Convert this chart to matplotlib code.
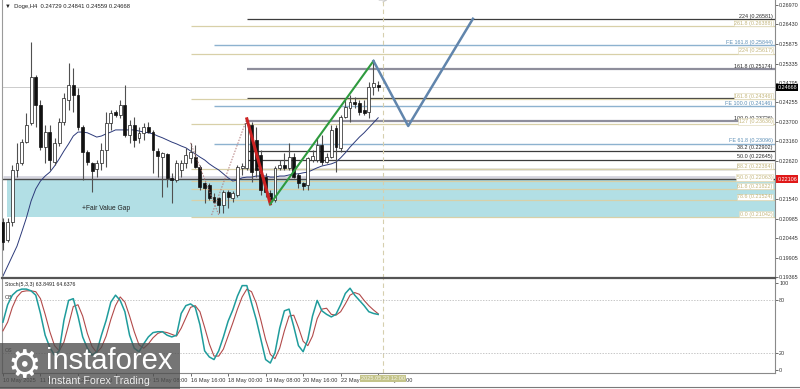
"""
Doge H4 chart with fib levels, fair value gap and Stoch(5,3,3) sub-panel.
Bar index 0 = 10 May 2025 00:00, one bar every 4 hours.
"""
import numpy as np
import matplotlib
matplotlib.use("Agg")
import matplotlib.pyplot as plt
from matplotlib.patches import Rectangle

plt.rcParams['font.family'] = ['Liberation Sans', 'DejaVu Sans']

# ---- candles ----
opens = [0.2090, 0.2040, 0.2090, 0.2236, 0.2256, 0.2314, 0.2368, 0.2496, 0.2418, 0.2300,
         0.2342, 0.2258, 0.2312, 0.2370, 0.2432, 0.2474, 0.2446, 0.2356, 0.2286, 0.2256,
         0.2239, 0.2256, 0.2292, 0.2368, 0.2398, 0.2390, 0.2418, 0.2334, 0.2362, 0.2326,
         0.2340, 0.2356, 0.2342, 0.2289, 0.2272, 0.2281, 0.2214, 0.2208, 0.2236, 0.2256,
         0.2270, 0.2272, 0.2244, 0.2200, 0.2194, 0.2160, 0.2158, 0.2138, 0.2174, 0.2158,
         0.2166, 0.2242, 0.2242, 0.2362, 0.2320, 0.2278, 0.2216, 0.2172, 0.2152, 0.2242,
         0.2250, 0.2242, 0.2272, 0.2222, 0.2200, 0.2194, 0.2264, 0.2264, 0.2306, 0.2258,
         0.2272, 0.2354, 0.2298, 0.2384, 0.2410, 0.2426, 0.2424, 0.2404, 0.2398, 0.2468,
         0.24729]
highs = [0.2102, 0.2102, 0.2250, 0.2312, 0.2323, 0.2396, 0.2594, 0.2502, 0.2432, 0.2362,
         0.2362, 0.2326, 0.2382, 0.2452, 0.2536, 0.2522, 0.2466, 0.2362, 0.2292, 0.2258,
         0.2264, 0.2312, 0.2398, 0.2404, 0.2404, 0.2432, 0.2474, 0.2376, 0.2384, 0.2356,
         0.2368, 0.2370, 0.2348, 0.2298, 0.2286, 0.2284, 0.2228, 0.2264, 0.2264, 0.2298,
         0.2312, 0.2306, 0.2250, 0.2202, 0.2200, 0.2172, 0.2160, 0.2180, 0.2180, 0.2177,
         0.2250, 0.2256, 0.2379, 0.2370, 0.2356, 0.2292, 0.2228, 0.2180, 0.2247, 0.2264,
         0.2284, 0.2312, 0.2284, 0.2228, 0.2202, 0.2272, 0.2292, 0.2326, 0.2334, 0.2284,
         0.2362, 0.2362, 0.2390, 0.2438, 0.2446, 0.2440, 0.2432, 0.2432, 0.2482, 0.2541,
         0.24841]
lows = [0.2012, 0.2034, 0.2079, 0.2216, 0.2250, 0.2312, 0.2362, 0.2356, 0.2292, 0.2256,
        0.2236, 0.2250, 0.2303, 0.2362, 0.2404, 0.2398, 0.2348, 0.2208, 0.2250, 0.2174,
        0.2216, 0.2236, 0.2244, 0.2348, 0.2384, 0.2382, 0.2328, 0.2312, 0.2300, 0.2312,
        0.2320, 0.2340, 0.2228, 0.2216, 0.2160, 0.2188, 0.2144, 0.2202, 0.2216, 0.2242,
        0.2256, 0.2242, 0.2180, 0.2144, 0.2152, 0.2144, 0.2116, 0.2116, 0.2130, 0.2146,
        0.2160, 0.2222, 0.2236, 0.2202, 0.2216, 0.2166, 0.2160, 0.2141, 0.2146, 0.2236,
        0.2236, 0.2236, 0.2214, 0.2186, 0.2180, 0.2180, 0.2258, 0.2258, 0.2250, 0.2256,
        0.2270, 0.2230, 0.2286, 0.2382, 0.2370, 0.2410, 0.2390, 0.2390, 0.2382, 0.2446,
        0.24559]
closes = [0.2034, 0.2090, 0.2236, 0.2256, 0.2314, 0.2362, 0.2496, 0.2418, 0.2300, 0.2342,
          0.2264, 0.2312, 0.2370, 0.2438, 0.2474, 0.2446, 0.2356, 0.2286, 0.2258, 0.2233,
          0.2256, 0.2292, 0.2368, 0.2396, 0.2390, 0.2418, 0.2334, 0.2362, 0.2320, 0.2340,
          0.2356, 0.2342, 0.2292, 0.2275, 0.2284, 0.2214, 0.2208, 0.2256, 0.2256, 0.2278,
          0.2286, 0.2244, 0.2188, 0.2186, 0.2158, 0.2146, 0.2138, 0.2174, 0.2160, 0.2172,
          0.2244, 0.2247, 0.2368, 0.2230, 0.2236, 0.2180, 0.2174, 0.2152, 0.2242, 0.2250,
          0.2242, 0.2272, 0.2216, 0.2200, 0.2191, 0.2270, 0.2275, 0.2306, 0.2258, 0.2272,
          0.2348, 0.2300, 0.2384, 0.2412, 0.2426, 0.2421, 0.2398, 0.2396, 0.2468, 0.2480,
          0.24668]

# moving average drawn on the chart
ma = [0.1939, 0.1967, 0.1995, 0.2023, 0.2062, 0.2102, 0.2149, 0.2183, 0.2205, 0.2219,
      0.2230, 0.2247, 0.2267, 0.2289, 0.2309, 0.2331, 0.2342, 0.2342, 0.2340, 0.2334,
      0.2328, 0.2331, 0.2337, 0.2342, 0.2348, 0.2348, 0.2348, 0.2348, 0.2348, 0.2345,
      0.2342, 0.2340, 0.2337, 0.2331, 0.2326, 0.2320, 0.2314, 0.2309, 0.2303, 0.2298,
      0.2289, 0.2281, 0.2272, 0.2264, 0.2253, 0.2244, 0.2236, 0.2225, 0.2214, 0.2205,
      0.2208, 0.2214, 0.2216, 0.2216, 0.2219, 0.2219, 0.2219, 0.2216, 0.2216, 0.2219,
      0.2219, 0.2222, 0.2225, 0.2225, 0.2228, 0.2230, 0.2236, 0.2242, 0.2247, 0.2250,
      0.2253, 0.2258, 0.2270, 0.2284, 0.2300, 0.2314, 0.2328, 0.2340, 0.2354, 0.2368,
      0.2382]

# Stoch(5,3,3): main and signal
stoch_k = [55, 75, 86, 91, 93, 93, 91, 86, 65, 40, 26, 17, 22, 57, 80, 82, 62, 38, 25, 17,
           21, 40, 57, 78, 86, 80, 67, 40, 25, 21, 30, 38, 43, 44, 44, 40, 38, 40, 65, 74,
           76, 72, 52, 22, 15, 12, 22, 38, 56, 69, 85, 97, 97, 77, 58, 35, 12, 8, 20, 48,
           68, 70, 50, 28, 21, 35, 62, 80, 68, 64, 61, 64, 75, 88, 94, 86, 80, 74, 67, 65,
           63.85]
stoch_d = [45, 55, 72, 84, 90, 91, 91, 90, 82, 64, 44, 28, 22, 32, 52, 73, 75, 62, 42, 27,
           20, 26, 39, 58, 74, 84, 78, 62, 44, 29, 25, 30, 37, 42, 44, 43, 41, 39, 48, 60,
           72, 74, 67, 49, 30, 16, 16, 24, 39, 54, 70, 84, 93, 90, 77, 57, 35, 18, 13, 25,
           45, 62, 63, 49, 33, 28, 39, 59, 70, 71, 64, 63, 67, 76, 86, 89, 87, 80, 74, 69,
           64.64]

time_ticks = [0, 8, 16, 24, 32, 40, 48, 56, 64, 72, 80]
time_labels = ["10 May 2025", "11 May 08:00", "12 May 16:00", "14 May 00:00", "15 May 08:00",
               "16 May 16:00", "18 May 00:00", "19 May 08:00", "20 May 16:00", "22 May 00:00",
               "23 May 08:00"]
price_ticks = [0.19365, 0.19905, 0.20445, 0.20985, 0.21540, 0.22620, 0.23160, 0.23700,
               0.24255, 0.24795, 0.25335, 0.25875, 0.26430, 0.26970]

# fib / expansion levels: label, price, style, first bar, last bar (None = to right edge)
fib_labels = ["224 (0.26581)", "261.8 (0.26388)", "FE 161.8 (0.25844)", "224 (0.25617)",
              "161.8 (0.25174)", "161.8 (0.24346)", "FE 100.0 (0.24146)", "100.0 (0.23726)",
              "127 (0.23636)", "FE 61.8 (0.23096)", "38.2 (0.22902)", "50.0 (0.22645)",
              "61.8 (0.22388)", "38.2 (0.22384)", "50.0 (0.22063)", "61.8 (0.21822)",
              "78.6 (0.21524)", "0.0 (0.21042)"]
fib_prices = [0.26581, 0.26388, 0.25844, 0.25617, 0.25174, 0.24346, 0.24146, 0.23726,
              0.23636, 0.23096, 0.22902, 0.22645, 0.22388, 0.22384, 0.22063, 0.21822,
              0.21524, 0.21042]
fib_styles = ["dark", "tan", "blue", "tan", "gray", "tan", "blue", "gray", "tan", "blue",
              "dark", "dark", "dark", "tan", "tan", "tan", "tan", "tan"]
fib_start = [52, 40, 45, 40, 52, 40, 45, 52, 40, 45, 52, 52, 52, 40, 40, 40, 40, 40]
fib_end = [None, None, None, None, None, None, None, 157, None, None, None, None, 157,
           None, None, None, None, None]
extra_level = (0.24380, 52, 156)      # unlabeled dark level under 161.8

current_price = 0.24668
hline_price = 0.22106
fvg_low, fvg_high, fvg_edge, fvg_start = 0.21042, 0.22106, 0.22150, 0.9
now_bar = 81

# drawn tool lines (bar, price)
red_x, red_y = [52, 57], [0.2379, 0.2141]
green_x, green_y = [57, 79], [0.2141, 0.2541]
proj_x, proj_y = [79, 86.4, 100.2], [0.2541, 0.2359, 0.2659]
zig1_x, zig1_y = [40, 46], [0.2312, 0.2110]
zig2_x, zig2_y = [44.5, 52], [0.2110, 0.2379]
zig3_x, zig3_y = [54.4, 57.4], [0.2244, 0.2144]

STYLE = {
    "dark": dict(line="#3c3c3c", lw=0.9, text="#2a2a2a"),
    "gray": dict(line="#8e8e9c", lw=1.6, text="#2a2a2a"),
    "tan": dict(line="#d8d0a8", lw=0.9, text="#c4b67c"),
    "blue": dict(line="#8db2cf", lw=1.0, text="#5a8db5"),
}

XMAX = 164.6
fig = plt.figure(figsize=(8.0, 3.89), dpi=100)
ax = fig.add_axes([2 / 800, 1 - 278 / 389, 773 / 800, 278 / 389])
ax2 = fig.add_axes([2 / 800, 1 - 373 / 389, 773 / 800, 95 / 389], sharex=ax)

bars = np.arange(len(opens))
o, h, l, c = map(np.asarray, (opens, highs, lows, closes))

# fair value gap
ax.add_patch(Rectangle((fvg_start, fvg_low), XMAX - fvg_start, fvg_high - fvg_low,
                       fc="#b2dfe5", ec="none", zorder=0.5))
ax.hlines(fvg_edge, 0, 156, color="#d4d4de", lw=2.0, zorder=0.8)
ax.axhline(hline_price, color="#4a4a4a", lw=1.0, zorder=1.2)
ax.text(22, 0.2127, "+Fair Value Gap", fontsize=4.8, color="#222222", ha="center",
        va="center", zorder=2)

# levels
ax.axhline(current_price, color="#c4c4c4", lw=0.6, zorder=0.9)
ax.hlines(extra_level[0], extra_level[1], extra_level[2], color=STYLE["dark"]["line"],
          lw=0.9, zorder=1)
for lab, p, st, x0, x1 in zip(fib_labels, fib_prices, fib_styles, fib_start, fib_end):
    s = STYLE[st]
    ax.hlines(p, x0, XMAX if x1 is None else x1, color=s["line"], lw=s["lw"], zorder=1)
    kw = {}
    if st == "tan":
        kw["bbox"] = dict(boxstyle="square,pad=0.12", fc="white", ec="#ddd6b4", lw=0.4)
    ax.text(0.997, p + 0.00012, lab, transform=ax.get_yaxis_transform(), ha="right",
            va="bottom", fontsize=3.9, color=s["text"], zorder=2.2, **kw)

# vertical "now" line
for a in (ax, ax2):
    a.axvline(now_bar, color="#d6cfae", lw=0.8, ls=(0, (4, 3)), zorder=1)

# moving average
ax.plot(bars, ma, color="#2c3a7a", lw=0.7, zorder=2.5)

# candles
ax.vlines(bars, l, h, color="#505050", lw=0.8, zorder=3)
up = c >= o
body = np.where(np.abs(c - o) < 0.00008, 0.00008, c - o)
ax.bar(bars[up], body[up], bottom=o[up], width=0.62, color="white", edgecolor="#1a1a1a",
       linewidth=0.5, zorder=3.2)
ax.bar(bars[~up], body[~up], bottom=o[~up], width=0.62, color="#111111",
       edgecolor="#111111", linewidth=0.5, zorder=3.2)

# tool lines
ax.plot(zig1_x, zig1_y, color="#b07a7a", lw=0.7, ls=(0, (1.5, 1.5)), zorder=3.5)
ax.plot(zig2_x, zig2_y, color="#b07a7a", lw=0.7, ls=(0, (1.5, 1.5)), zorder=3.5)
ax.plot(zig3_x, zig3_y, color="#b07a7a", lw=0.7, ls=(0, (1.5, 1.5)), zorder=3.5)
ax.plot(red_x, red_y, color="#cc2222", lw=2.2, zorder=4)
ax.plot(green_x, green_y, color="#2e9a3e", lw=1.5, zorder=4)
ax.plot(proj_x, proj_y, color="#6185ac", lw=1.8, zorder=4)

# main axis cosmetics
ax.set_xlim(-0.2, XMAX)
ax.set_ylim(0.19337, 0.27115)
ax.yaxis.tick_right()
ax.set_yticks(price_ticks)
ax.set_yticklabels([f"{p:.5f}" for p in price_ticks])
ax.tick_params(axis="y", labelsize=3.9, length=2, width=0.5, pad=1, colors="#333333")
ax.tick_params(axis="x", bottom=False, labelbottom=False)
for side in ("top", "bottom"):
    ax.spines[side].set_visible(False)
ax.spines["left"].set_color("#9a9a9a")
ax.spines["right"].set_color("#8a8a8a")

ytr = ax.get_yaxis_transform()
ax.text(1.003, current_price, "0.24668", transform=ytr, fontsize=3.9, color="white",
        ha="left", va="center", zorder=6, clip_on=False,
        bbox=dict(boxstyle="square,pad=0.2", fc="black", ec="none"))
ax.text(1.003, hline_price, "0.22106", transform=ytr, fontsize=3.9, color="white",
        ha="left", va="center", zorder=6, clip_on=False,
        bbox=dict(boxstyle="square,pad=0.2", fc="#e01818", ec="none"))
ax.text(0.004, 0.985, "\u25bc  Doge,H4  0.24729 0.24841 0.24559 0.24668",
        transform=ax.transAxes, fontsize=4.2, color="#222222", ha="left", va="top")
ax.plot([now_bar - 0.8, now_bar + 0.8, now_bar], [0.2711, 0.2711, 0.2706], color="#c8c8c8",
        lw=0.6, zorder=5, clip_on=False)

# stochastic panel
ax2.plot(bars, stoch_d, color="#b24a4a", lw=0.8, zorder=3)
ax2.plot(bars, stoch_k, color="#1f9c9c", lw=1.1, zorder=3.2)
for lvl in (80, 20):
    ax2.axhline(lvl, color="#b0b0b0", lw=0.5, ls=(0, (2, 2)), zorder=1)
ax2.set_ylim(-3.45, 105.75)
ax2.yaxis.tick_right()
ax2.set_yticks([0, 20, 80, 100])
ax2.set_yticklabels(["0", "20", "80", "100"])
ax2.tick_params(axis="y", labelsize=3.9, length=2, width=0.5, pad=1, colors="#333333")
ax2.set_xticks(time_ticks)
ax2.set_xticklabels(time_labels, ha="left")
ax2.tick_params(axis="x", labelsize=4.1, length=2, width=0.5, pad=1.5, colors="#333333")
ax2.spines["top"].set_color("#555555")
ax2.spines["top"].set_linewidth(1.6)
ax2.spines["left"].set_color("#9a9a9a")
ax2.spines["right"].set_color("#8a8a8a")
ax2.spines["bottom"].set_color("#8a8a8a")
ax2.text(0.004, 0.96, "Stoch(5,3,3) 63.8491 64.6376", transform=ax2.transAxes,
         fontsize=3.8, color="#222222", ha="left", va="top")
ax2.text(0.004, 80, "OB", transform=ax2.get_yaxis_transform(), fontsize=3.8,
         color="#333333", ha="left", va="bottom")
ax2.text(0.004, 20, "OS", transform=ax2.get_yaxis_transform(), fontsize=3.8,
         color="#333333", ha="left", va="bottom")
ax2.text(now_bar, -0.035, "2025.05.23 12:00", transform=ax2.get_xaxis_transform(),
         fontsize=4.1, color="#f4f4e8", ha="center", va="top", zorder=6, clip_on=False,
         bbox=dict(boxstyle="square,pad=0.2", fc="#c4c48a", ec="none"))

# bottom frame line
fig.add_artist(plt.Line2D([0, 1], [2 / 389, 2 / 389], transform=fig.transFigure,
                          color="#7a7a7a", lw=0.8))

# watermark logo
fig.add_artist(Rectangle((0, 0), 180 / 800, 46 / 389, transform=fig.transFigure,
                         fc="#4e4e4e", ec="none", alpha=0.78, zorder=10))
fig.text(24 / 800, 22 / 389, "\u2699", fontsize=27, color="white", ha="center",
         va="center", zorder=11, family=["DejaVu Sans"])
fig.text(46 / 800, 28 / 389, "instaforex", fontsize=21, color="white", ha="left",
         va="center", zorder=11)
fig.text(48 / 800, 8 / 389, "Instant Forex Trading", fontsize=7.7, color="#eeeeee",
         ha="left", va="center", zorder=11)

fig.savefig("out.png", dpi=100, facecolor="white")
